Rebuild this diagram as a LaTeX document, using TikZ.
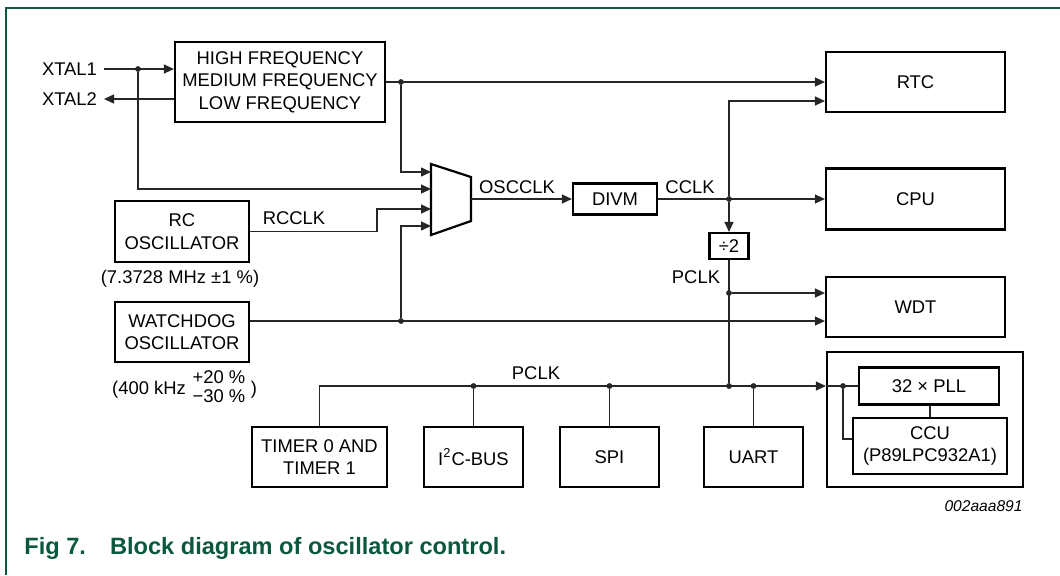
\documentclass[tikz,border=0pt]{standalone}
\usepackage{fontspec}
\setmainfont{Liberation Sans}
\usetikzlibrary{arrows.meta,calc,positioning}
\definecolor{nxpgreen}{RGB}{10,88,64}

\begin{document}
\begin{tikzpicture}[x=0.5pt,y=-0.5pt,
    font=\fontsize{9.2}{11.3}\selectfont,
    blk/.style={draw,line width=1.1pt,align=center,inner sep=0pt},
    wire/.style={line width=0.7pt,black!85},
    arr/.style={wire,-{Triangle[length=5pt,width=4.5pt]}},
    dot/.style={circle,fill=black!85,inner sep=0pt,minimum size=2.9pt}]
  \useasboundingbox (0,0) rectangle (1060,575);

  % frame and caption
  \draw[nxpgreen,line width=0.8pt] (6,575) -- (6,8) -- (1060,8);
  \node[anchor=west,inner sep=0pt,text=nxpgreen,font=\bfseries\fontsize{11.8}{13}\selectfont]
    (caption) at (24,548) {Fig 7.\hspace{12pt}Block diagram of oscillator control.};
  \node[anchor=east,inner sep=0pt,font=\itshape\fontsize{7.8}{9}\selectfont]
    (figid) at (1023,506) {002aaa891};

  % oscillators
  \node[blk,minimum width=105pt,minimum height=40pt] (hf) at (280,82)
    {HIGH FREQUENCY\\MEDIUM FREQUENCY\\LOW FREQUENCY};
  \node[blk,minimum width=67pt,minimum height=30.5pt] (rc) at (182,231.5)
    {RC\\OSCILLATOR};
  \node[blk,minimum width=67pt,minimum height=30pt] (wd) at (182,332)
    {WATCHDOG\\OSCILLATOR};
  \node (rcfreq) at (180,279) {(7.3728 MHz ±1 \%)};
  \node (wdfreq) at (149,390) {(400 kHz};
  \node[align=left,font=\fontsize{9.2}{9.5}\selectfont] (wdtol) at (219,387) {+20 \%\\−30 \%};
  \node (wdclose) at (254,390) {)};

  \node[anchor=east] (xtal1) at (104,69) {XTAL1};
  \node[anchor=east] (xtal2) at (104,99) {XTAL2};

  % clock multiplexer
  \coordinate (mtl) at (431,164);
  \coordinate (mtr) at (471,177);
  \coordinate (mbr) at (471,221);
  \coordinate (mbl) at (431,235);
  \draw[line width=1.1pt] (mtl) -- (mtr) -- (mbr) -- (mbl) -- cycle;
  \coordinate (min1) at (431,172);
  \coordinate (min2) at (431,189);
  \coordinate (min3) at (431,209);
  \coordinate (min4) at (431,226);
  \coordinate (mout) at (471,199);

  \node[blk,minimum width=42pt,minimum height=15.5pt] (divm) at (615,199) {DIVM};
  \node[blk,minimum width=19.5pt,minimum height=13pt] (div2) at (729,246) {÷2};

  % clock users
  \node[blk,minimum width=89.5pt,minimum height=30pt] (rtc) at (915.5,82) {RTC};
  \node[blk,minimum width=89.5pt,minimum height=30.5pt] (cpu) at (915.5,199) {CPU};
  \node[blk,minimum width=89.5pt,minimum height=30pt] (wdt) at (915.5,307) {WDT};

  \node[blk,minimum width=67.5pt,minimum height=30pt] (timer) at (319.5,457)
    {TIMER 0 AND\\TIMER 1};
  \node[blk,minimum width=49.5pt,minimum height=30pt] (i2c) at (473.5,457)
    {I\textsuperscript{2}C-BUS};
  \node[blk,minimum width=49.5pt,minimum height=30pt] (spi) at (609.5,457) {SPI};
  \node[blk,minimum width=49.5pt,minimum height=30pt] (uart) at (753.5,457) {UART};

  \node[blk,minimum width=98pt,minimum height=67.5pt] (ccubox) at (925,419.5) {};
  \node[blk,minimum width=70pt,minimum height=18.5pt] (pll) at (929,386) {32 × PLL};
  \node[blk,minimum width=77pt,minimum height=28pt] (ccu) at (930,446)
    {CCU\\(P89LPC932A1)};

  % junctions
  \node[dot] (dx1) at (138,69) {};
  \node[dot] (dhf) at (401,82) {};
  \node[dot] (dwd) at (401,321) {};
  \node[dot] (dcclk) at (729,199) {};
  \node[dot] (dpclk) at (729,293) {};
  \node[dot] (dbus) at (729,386) {};
  \node[dot] (di2c) at (i2c.north |- dbus) {};
  \node[dot] (dspi) at (spi.north |- dbus) {};
  \node[dot] (duart) at (uart.north |- dbus) {};
  \node[dot] (dpll) at (843,386) {};

  % crystal
  \draw[arr] (xtal1.east) -- (xtal1.east -| hf.west);
  \draw[arr] (hf.west |- xtal2.east) -- (xtal2.east);
  \draw[arr] (dx1) |- (min2);

  % oscillator outputs
  \draw[arr] (hf.east) -- (rtc.west);
  \draw[arr] (dhf) |- (min1);
  \draw[arr] (rc.east) -- ++(127,0) |- (min3);
  \node (rcclk) at (294,218) {RCCLK};
  \draw[arr] (wd.east |- dwd) -- (wdt.west |- dwd);
  \draw[arr] (dwd) |- (min4);

  % clock chain
  \draw[arr] (mout) -- (divm.west);
  \node (oscclk) at (517,187) {OSCCLK};
  \draw[arr] (divm.east) -- (cpu.west);
  \node (cclk) at (690,187) {CCLK};
  \draw[arr] (dcclk) |- ($(rtc.west)+(0,19)$);
  \draw[arr] (dcclk) -- (div2.north);
  \draw[wire] (div2.south) -- (dbus);
  \node (pclk) at (696,277) {PCLK};
  \draw[arr] (dpclk) -- (wdt.west |- dpclk);

  % peripheral bus
  \draw[arr] (timer.north) |- (ccubox.west |- dbus);
  \node (pclkbus) at (536,373) {PCLK};
  \draw[wire] (i2c.north) -- (di2c);
  \draw[wire] (spi.north) -- (dspi);
  \draw[wire] (uart.north) -- (duart);
  \draw[wire] (ccubox.west |- pll.west) -- (pll.west);
  \draw[wire] (dpll) |- ($(ccu.west)+(0,-7)$);
  \draw[wire] (pll.south -| ccu.north) -- (ccu.north);
\end{tikzpicture}
\end{document}
